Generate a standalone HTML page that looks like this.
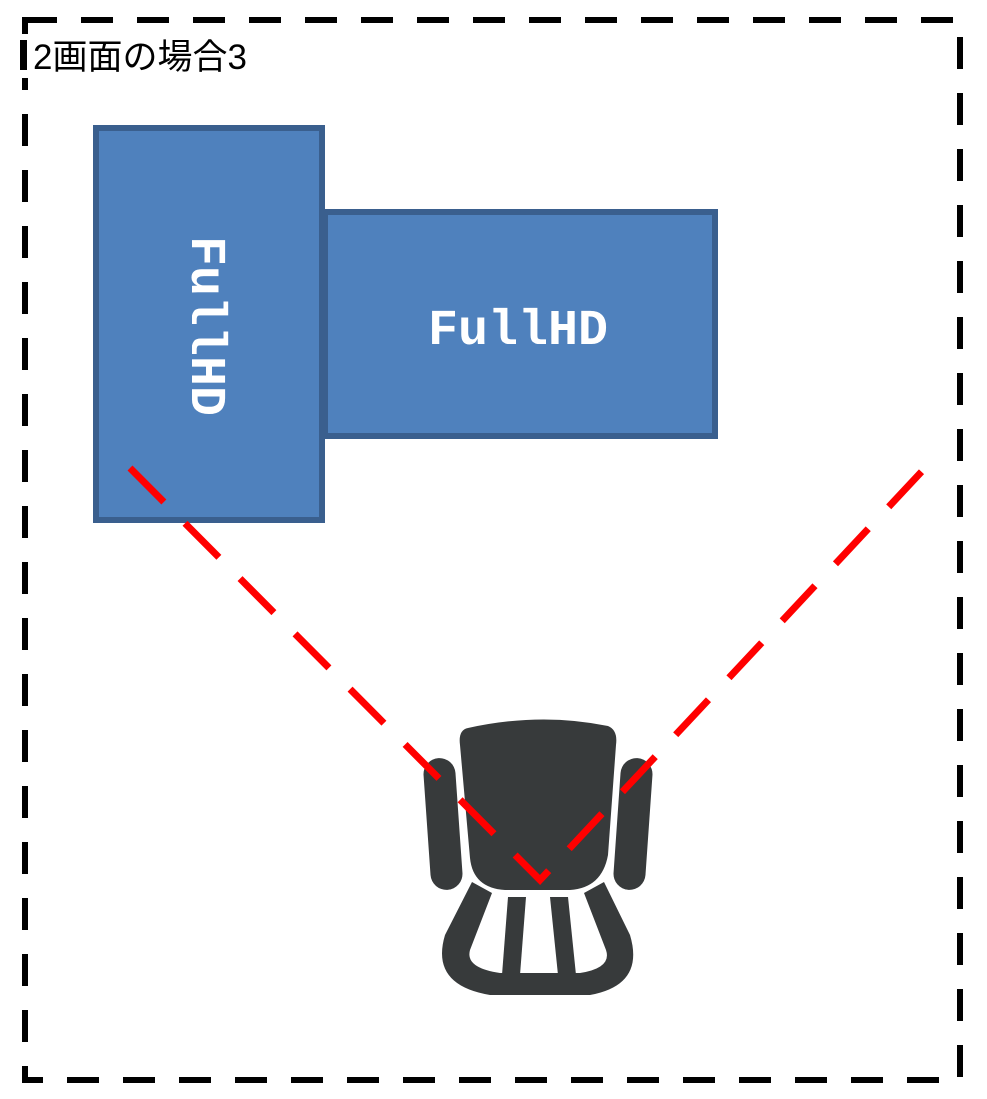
<!DOCTYPE html>
<html><head><meta charset="utf-8"><style>
body{margin:0;background:#fff;width:987px;height:1099px;overflow:hidden}
svg{display:block}
</style></head><body>
<svg width="987" height="1099" viewBox="0 0 987 1099" xmlns="http://www.w3.org/2000/svg">
<rect x="25" y="20" width="935" height="1060" fill="none" stroke="#000" stroke-width="6" stroke-dasharray="32 24"/>
<rect x="20" y="34" width="300" height="44" fill="#fff"/>
<rect x="20" y="40" width="7" height="30" fill="#000"/>
<text x="33" y="69" font-family="'Liberation Sans','Noto Sans CJK JP',sans-serif" font-size="35" fill="#000">2画面の場合3</text>
<rect x="96" y="128" width="226" height="392" fill="#4f81bd" stroke="#3a5f8e" stroke-width="6"/>
<rect x="325" y="212" width="390" height="224" fill="#4f81bd" stroke="#3a5f8e" stroke-width="6"/>
<text x="518" y="344" text-anchor="middle" font-family="'Liberation Mono',monospace" font-weight="bold" font-size="50" fill="#fff">FullHD</text>
<text transform="translate(192,326) rotate(90)" text-anchor="middle" font-family="'Liberation Mono',monospace" font-weight="bold" font-size="50" fill="#fff">FullHD</text>
<g fill="#373a3b">
<path d="M468 728 Q540 712 608 726 Q618 730 616 745 L608 855 Q602 888 570 890 L505 890 Q473 888 470 858 L460 745 Q458 730 468 728Z"/>
<rect x="427" y="758" width="32" height="132" rx="16" transform="rotate(-4 443 824)"/>
<rect x="617" y="758" width="32" height="132" rx="16" transform="rotate(4 633 824)"/>
<path d="M472 882 L492 893 L470 950 Q465 968 500 973 L580 973 Q612 968 606 950 L584 893 L604 882 L630 935 Q645 985 590 995 L490 995 Q430 985 445 935Z"/>
<path d="M508 897 L526 897 L520 975 L502 975Z"/>
<path d="M550 897 L568 897 L576 975 L558 975Z"/>
</g>
<path d="M130 468 L540 880 L925 468" fill="none" stroke="#f00" stroke-width="7" stroke-dasharray="48 30"/>
</svg>
</body></html>
